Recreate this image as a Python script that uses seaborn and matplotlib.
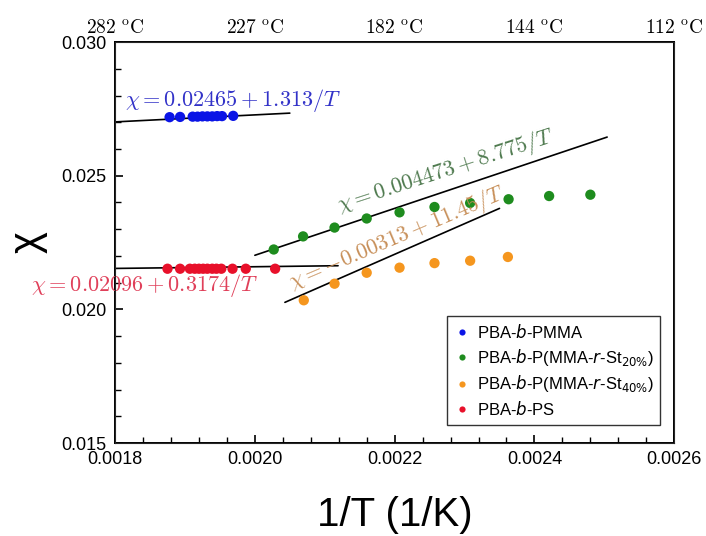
import numpy as np
import pandas as pd
import matplotlib
matplotlib.use("Agg")
import matplotlib.pyplot as plt
import seaborn as sns
from matplotlib.ticker import MultipleLocator

# measured chi values vs 1/T for each block copolymer
pmma_x = [0.001878, 0.001893, 0.001911, 0.001918, 0.001925, 0.001932, 0.001939, 0.001946, 0.001953, 0.001969]
pmma_y = [0.02719, 0.02720, 0.02721, 0.02721, 0.02722, 0.02722, 0.02722, 0.02723, 0.02723, 0.02724]

st20_x = [0.002027, 0.002069, 0.002114, 0.002160, 0.002207, 0.002257, 0.002308, 0.002363, 0.002421, 0.002480]
st20_y = [0.02224, 0.02273, 0.02306, 0.02340, 0.02363, 0.02383, 0.02398, 0.02412, 0.02424, 0.02429]

st40_x = [0.002070, 0.002114, 0.002160, 0.002207, 0.002257, 0.002308, 0.002362]
st40_y = [0.02034, 0.02096, 0.02137, 0.02156, 0.02173, 0.02182, 0.02196]

ps_x = [0.001875, 0.001893, 0.001907, 0.001914, 0.001920, 0.001926, 0.001932, 0.001939,
        0.001945, 0.001952, 0.001968, 0.001987, 0.002029]
ps_y = [0.02152, 0.02152, 0.02152, 0.02152, 0.02152, 0.02152, 0.02152, 0.02152,
        0.02152, 0.02152, 0.02152, 0.02152, 0.02152]

labels = ["PBA-$b$-PMMA", "PBA-$b$-P(MMA-$r$-St$_{20\\%}$)",
          "PBA-$b$-P(MMA-$r$-St$_{40\\%}$)", "PBA-$b$-PS"]
colors = ["#0a14e6", "#1e8c1e", "#f5961e", "#e8102a"]

# fit lines chi = A + B/T, with the x range each line is drawn over
fit_A = [0.02465, 0.004473, -0.00313, 0.02096]
fit_B = [1.313, 8.775, 11.45, 0.3174]
fit_x0 = [0.0018, 0.0020, 0.002043, 0.0018]
fit_x1 = [0.00205, 0.002504, 0.00235, 0.002119]

top_ticks = [0.0018, 0.0020, 0.0022, 0.0024, 0.0026]
top_labels = ["282", "227", "182", "144", "112"]

df = pd.concat([
    pd.DataFrame({"x": pmma_x, "y": pmma_y, "sample": labels[0]}),
    pd.DataFrame({"x": st20_x, "y": st20_y, "sample": labels[1]}),
    pd.DataFrame({"x": st40_x, "y": st40_y, "sample": labels[2]}),
    pd.DataFrame({"x": ps_x, "y": ps_y, "sample": labels[3]}),
])

sns.set_style("white")
plt.rcParams["font.family"] = ["Liberation Sans", "DejaVu Sans"]
plt.rcParams["mathtext.fontset"] = "dejavusans"
plt.rcParams["text.color"] = "black"
plt.rcParams["axes.labelcolor"] = "black"
plt.rcParams["xtick.color"] = "black"
plt.rcParams["ytick.color"] = "black"

fig = plt.figure(figsize=(7.06, 5.36), dpi=100)
ax = fig.add_axes([0.163, 0.1735, 0.792, 0.748])

# fit lines first so points sit on top
for a, b, x0, x1 in zip(fit_A, fit_B, fit_x0, fit_x1):
    xs = np.array([x0, x1])
    sns.lineplot(x=xs, y=a + b * xs, color="black", lw=1.2, ax=ax, legend=False)

sns.scatterplot(data=df, x="x", y="y", hue="sample", palette=colors, s=55,
                edgecolor="none", ax=ax, zorder=3)

ax.set_xlim(0.0018, 0.0026)
ax.set_ylim(0.015, 0.030)
ax.xaxis.set_major_locator(MultipleLocator(0.0002))
ax.xaxis.set_minor_locator(MultipleLocator(0.00004))
ax.yaxis.set_major_locator(MultipleLocator(0.005))
ax.yaxis.set_minor_locator(MultipleLocator(0.001))
ax.set_xticklabels([f"{v:.4f}" for v in ax.get_xticks()])
ax.set_yticklabels([f"{v:.3f}" for v in ax.get_yticks()])
ax.tick_params(which="both", direction="in", bottom=True, left=True, top=False, right=False)
ax.tick_params(which="major", length=6, width=1.2, labelsize=13, pad=6)
ax.tick_params(which="minor", length=4, width=1.0)
for sp in ax.spines.values():
    sp.set_linewidth(1.4)
    sp.set_color("black")

ax.set_xlabel("1/T (1/K)", fontsize=29, labelpad=20)
ax.set_ylabel("χ", fontsize=30, labelpad=10)

# top axis in degrees Celsius
ax2 = ax.twiny()
ax2.set_xlim(ax.get_xlim())
ax2.set_xticks(top_ticks)
ax2.set_xticklabels([rf"${t}\ ^{{\rm o}}{{\rm C}}$" for t in top_labels],
                    math_fontfamily="cm", fontsize=14)
ax2.tick_params(axis="x", length=0, pad=4)

# fit equations
eq_kw = dict(math_fontfamily="cm", fontsize=16)
ax.text(0.001814, 0.02783, r"$\chi = 0.02465 + 1.313/T$", color="#3232c8",
        ha="left", va="center", **eq_kw)
ax.text(0.001679, 0.02090, r"$\chi = 0.02096 + 0.3174/T$", color="#e0405a",
        ha="left", va="center", clip_on=False, **eq_kw)
ax.text(0.002274, 0.02518, r"$\chi = 0.004473 + 8.775/T$", color="#4f7a4f",
        ha="center", va="center", rotation=18, rotation_mode="anchor", **eq_kw)
ax.text(0.002204, 0.02266, r"$\chi = -0.00313 + 11.45/T$", color="#c8905a",
        ha="center", va="center", rotation=23, rotation_mode="anchor", **eq_kw)

leg = ax.legend(loc="lower right", bbox_to_anchor=(0.975, 0.045), borderaxespad=0,
                frameon=True, fancybox=False, edgecolor="black", fontsize=12,
                markerscale=0.6, handletextpad=0.4, borderpad=0.4, labelspacing=0.35,
                handlelength=1.0)
leg.get_frame().set_linewidth(1.0)

fig.savefig("out.png", dpi=100)
